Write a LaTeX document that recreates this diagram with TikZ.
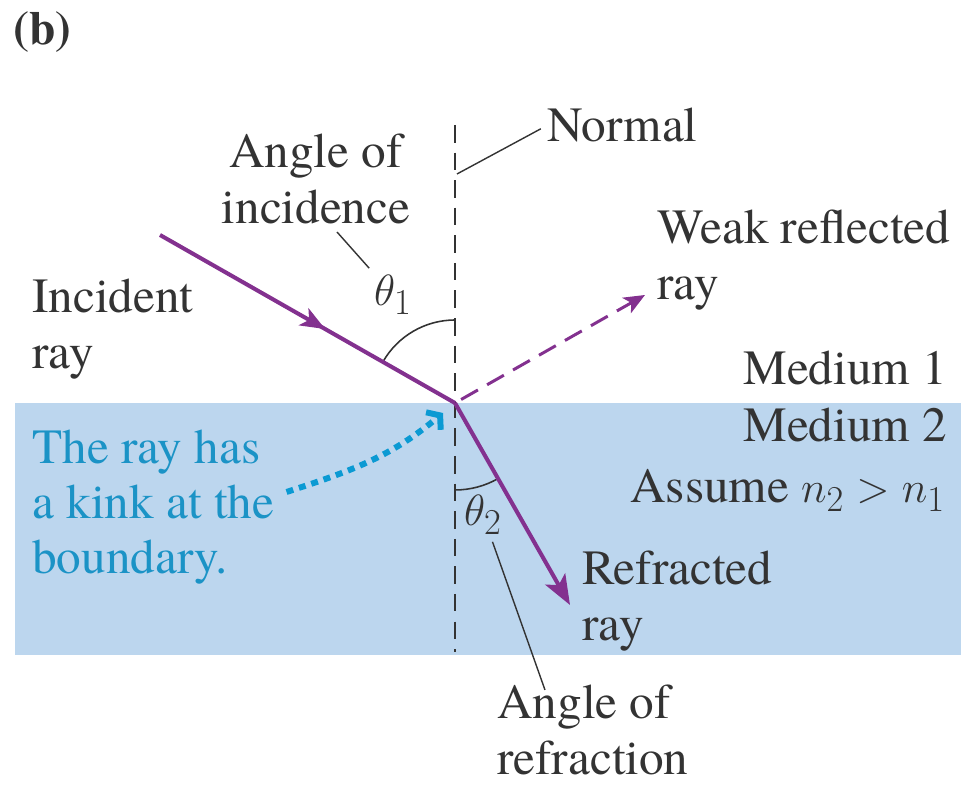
\documentclass[tikz,border=0pt]{standalone}
\usepackage{fontspec}
\setmainfont{texgyretermes}[Extension=.otf, UprightFont=*-regular, BoldFont=*-bold, ItalicFont=*-italic, BoldItalicFont=*-bolditalic]
\usetikzlibrary{arrows.meta,positioning,decorations.markings}
\definecolor{Ink}{HTML}{333333}
\definecolor{Ray}{HTML}{83318F}
\definecolor{Glass}{HTML}{BCD6EE}
\definecolor{Note}{HTML}{1B93C6}
\definecolor{Kink}{HTML}{0B9AD3}
\tikzset{
 lbl/.style={inner sep=0pt, text=Ink, font=\fontsize{28}{31.5}\selectfont, align=left},
 note/.style={lbl, text=Note},
 ray/.style={draw=Ray, line width=2.3pt},
 normalline/.style={draw=Ink, line width=1.7pt, dash pattern=on 10pt off 5.7pt},
 leader/.style={draw=Ink, line width=0.8pt},
 anglearc/.style={draw=Ink, line width=0.9pt},
 tip/.style={-{Stealth[length=17pt,width=13pt,inset=4pt]}},
 weaktip/.style={-{Stealth[length=12pt,width=10pt,inset=3pt]}, dash pattern=on 11pt off 6pt, line width=1.7pt},
 midtip/.style={postaction={decorate},decoration={markings,mark=at position 0.56 with {\arrow{Stealth[length=14pt,width=11pt,inset=3.5pt]}}}},
 kinkarrow/.style={draw=Kink, line width=3.4pt, dash pattern=on 4pt off 3.4pt, -{Straight Barb[length=5pt,width=13pt]}}
}

\begin{document}
\begin{tikzpicture}[x=0.02cm,y=0.02cm]
\useasboundingbox (0,0) rectangle (961,787);
\fill[Glass] (15,132) rectangle (961,384);
\coordinate (O) at (455,384);
\coordinate (nt) at (455,662); \coordinate (nb) at (455,135);
\coordinate (src) at (160,552); \coordinate (rfl) at (645,492); \coordinate (rfr) at (570,182);
\coordinate (nl) at (457,613); \coordinate (l1a) at (337,555); \coordinate (l2b) at (545,97);
\coordinate (kb) at (443,374);
\draw[normalline] (nt) -- (nb);
\node[lbl,font=\bfseries\fontsize{27}{30}\selectfont,anchor=base west] (tag) at (13,742) {(b)};
\node[lbl,align=center] (inc) at (316,608) {Angle of\\incidence};
\node[lbl,anchor=base west] (normal) at (547,645) {Normal};
\node[lbl,anchor=west] (incident) at (32,458) {Incident\\ray};
\node[lbl,anchor=west] (weak) at (657,527) {Weak reflected\\ray};
\node[lbl,anchor=base west] (med1) at (743,402) {Medium 1};
\node[lbl,anchor=base west] (med2) at (743,345) {Medium 2};
\node[lbl,anchor=base west] (assume) at (630,284) {Assume $n_2 > n_1$};
\node[note,anchor=west] (kink) at (32,280) {The ray has\\a kink at the\\boundary.};
\node[lbl,anchor=west] (refracted) at (582,186) {Refracted\\ray};
\node[lbl,anchor=west] (refr) at (497,57) {Angle of\\refraction};
\node[lbl,inner sep=4pt] (th1) at (393,492) {$\theta_1$};
\node[lbl,inner sep=4pt] (th2) at (483,272) {$\theta_2$};
\draw[anglearc] ([shift={(90:83)}]O) arc[start angle=90,end angle=150.3,radius=83];
\draw[anglearc] ([shift={(270:87)}]O) arc[start angle=270,end angle=299.7,radius=87];
\draw[leader,shorten >=4pt] (nl) -- (normal.west);
\draw[leader] (l1a) -- (th1);
\draw[leader] (th2) -- (l2b);
\draw[ray,midtip] (src) -- (O);
\draw[ray,tip] (O) -- (rfr);
\draw[ray,weaktip,shorten <=4pt] (O) -- (rfl);
\draw[kinkarrow] ([shift={(12,15)}]kink.east) to[out=18,in=220] (kb);
\end{tikzpicture}
\end{document}
